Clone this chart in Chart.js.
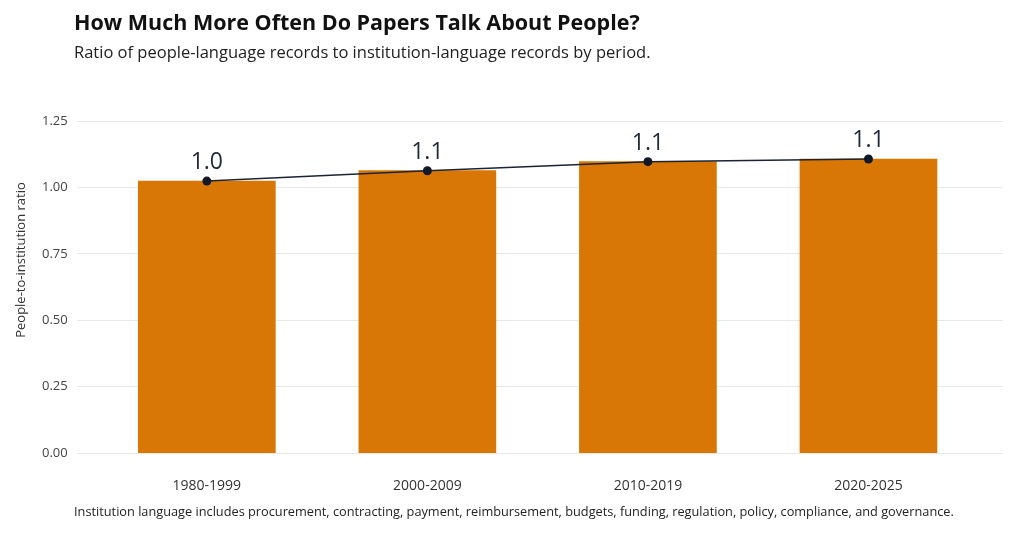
<!DOCTYPE html>
<html>
<head>
<meta charset="utf-8">
<script src="https://cdn.jsdelivr.net/npm/chart.js@4.4.1/dist/chart.umd.min.js"></script>
<style>
  html, body { margin: 0; padding: 0; background: #fff; }
  #wrap { position: relative; width: 1024px; height: 533px; font-family: "Open Sans", sans-serif; }
  #grafico { position: absolute; left: 0; top: 0; }
  .titulo { position: absolute; left: 74px; top: 7px; font-size: 21.5px; font-weight: 700; color: #111; }
  .subtitulo { position: absolute; left: 74px; top: 40px; font-size: 16.5px; color: #222; }
  .nota { position: absolute; left: 74px; top: 502px; font-size: 12.75px; color: #222; }
</style>
</head>
<body>
<div id="wrap">
  <canvas id="grafico" width="1024" height="533"></canvas>
  <div class="titulo">How Much More Often Do Papers Talk About People?</div>
  <div class="subtitulo">Ratio of people-language records to institution-language records by period.</div>
  <div class="nota">Institution language includes procurement, contracting, payment, reimbursement, budgets, funding, regulation, policy, compliance, and governance.</div>
</div>
<script>
// Dados
var periodos = ['1980-1999', '2000-2009', '2010-2019', '2020-2025'];
var razoes = [1.024, 1.063, 1.097, 1.107];
var ticksY = [0, 0.25, 0.5, 0.75, 1.0, 1.25];
var tituloY = 'People-to-institution ratio';

var corBarra = '#D97706';
var corLinha = '#1B2433';

// Rótulos com o valor acima de cada ponto + título do eixo Y
var rotulosPontos = {
    id: 'rotulosPontos',
    afterDatasetsDraw: function (chart) {
        var ctx = chart.ctx;
        var meta = chart.getDatasetMeta(1);
        ctx.save();
        ctx.font = '23px "Open Sans", sans-serif';
        ctx.fillStyle = '#1F2937';
        ctx.textAlign = 'center';
        ctx.textBaseline = 'alphabetic';
        meta.data.forEach(function (pt, i) {
            ctx.fillText(razoes[i].toFixed(1), pt.x, pt.y - 12);
        });
        ctx.restore();

        // título do eixo Y (centrado na figura, como no original)
        ctx.save();
        ctx.translate(21, 260);
        ctx.rotate(-Math.PI / 2);
        ctx.font = '13px "Open Sans", sans-serif';
        ctx.fillStyle = '#333';
        ctx.textAlign = 'center';
        ctx.textBaseline = 'middle';
        ctx.fillText(tituloY, 0, 0);
        ctx.restore();
    }
};

var pontos = periodos.map(function (p, i) { return { x: i + 1, y: razoes[i] }; });

var ctx = document.getElementById('grafico').getContext('2d');
var meuGrafico = new Chart(ctx, {
    type: 'bar',
    data: {
        datasets: [{
            type: 'bar',
            data: pontos,
            backgroundColor: corBarra,
            barThickness: 137,
            order: 2
        }, {
            type: 'line',
            data: pontos,
            borderColor: corLinha,
            borderWidth: 1.5,
            pointRadius: 4.5,
            pointBackgroundColor: '#111827',
            pointBorderWidth: 0,
            tension: 0,
            order: 1
        }]
    },
    options: {
        responsive: false,
        animation: false,
        layout: { padding: { top: 121, left: 33, right: 21, bottom: 23 } },
        plugins: {
            legend: { display: false },
            tooltip: { enabled: false }
        },
        scales: {
            x: {
                type: 'linear',
                offset: false,
                min: 0.41,
                max: 4.61,
                afterBuildTicks: function (scale) {
                    scale.ticks = periodos.map(function (p, i) { return { value: i + 1 }; });
                },
                ticks: {
                    padding: 16,
                    maxRotation: 0,
                    font: { family: 'Open Sans', size: 14 },
                    color: '#333',
                    callback: function (v) { return periodos[v - 1]; }
                },
                grid: { display: false },
                border: { display: false }
            },
            y: {
                min: 0,
                max: 1.25,
                afterBuildTicks: function (scale) {
                    scale.ticks = ticksY.map(function (v) { return { value: v }; });
                },
                ticks: {
                    padding: 9,
                    font: { family: 'Open Sans', size: 13 },
                    color: '#444',
                    callback: function (v) { return v.toFixed(2); }
                },
                grid: { color: '#E8E8E8', lineWidth: 1, drawTicks: false },
                border: { display: false }
            }
        }
    },
    plugins: [rotulosPontos]
});
</script>
</body>
</html>
